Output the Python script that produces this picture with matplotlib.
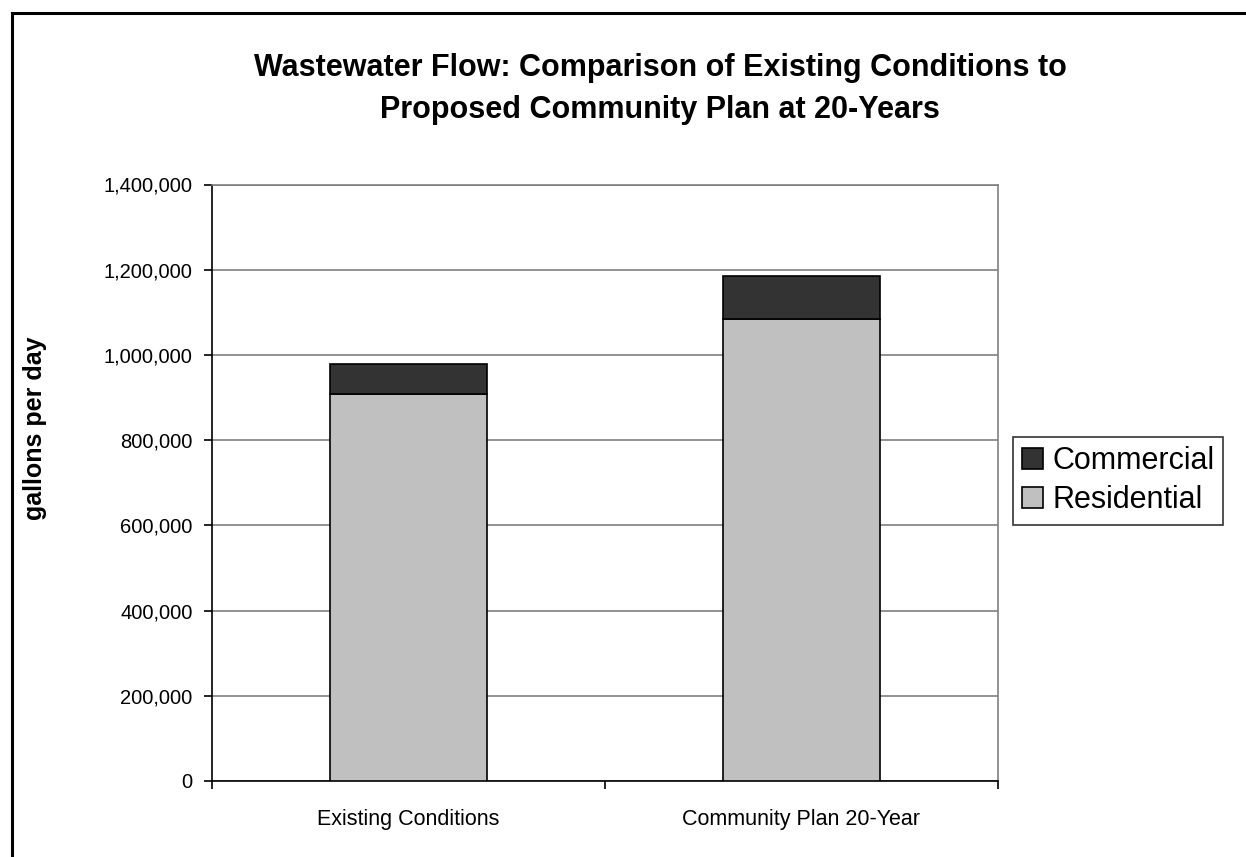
import matplotlib
matplotlib.use("Agg")
import matplotlib.pyplot as plt
from matplotlib.patches import Patch
from matplotlib.lines import Line2D
from matplotlib.ticker import FuncFormatter, FixedLocator

plt.rcParams['font.family'] = ['Liberation Sans', 'DejaVu Sans']

categories = ["Existing Conditions", "Community Plan 20-Year"]
residential = [908000, 1084000]
commercial = [71000, 102000]
series_names = ["Commercial", "Residential"]
yticks = [0, 200000, 400000, 600000, 800000, 1000000, 1200000, 1400000]

W, H = 1246, 857
fig = plt.figure(figsize=(W / 100, H / 100), dpi=100)
ax = fig.add_axes([212 / W, 1 - 781 / H, (998 - 212) / W, (781 - 184.5) / H])

x = list(range(len(categories)))
ax.bar(x, residential, width=0.4, color="#C0C0C0", edgecolor="black", linewidth=1.2, zorder=3)
ax.bar(x, commercial, bottom=residential, width=0.4, color="#333333", edgecolor="black", linewidth=1.2, zorder=3)

ax.set_xlim(-0.5, len(categories) - 0.5)
ax.set_ylim(0, 1400000)
ax.set_yticks(yticks)
ax.yaxis.set_major_formatter(FuncFormatter(lambda v, p: f"{int(v):,}"))
ax.yaxis.grid(True, color="#808080", linewidth=1.2, zorder=0)
ax.tick_params(axis="y", direction="out", length=6, width=1.2, labelsize=14.5, pad=8)

ax.set_xticks(x)
ax.set_xticklabels(categories, fontsize=15.5)
ax.tick_params(axis="x", which="major", length=0, pad=20)
ax.xaxis.set_minor_locator(FixedLocator([-0.5, 0.5, 1.5]))
ax.tick_params(axis="x", which="minor", direction="out", length=5.5, width=1.2)

for s in ["left", "bottom"]:
    ax.spines[s].set_color("black")
    ax.spines[s].set_linewidth(1.2)
for s in ["right", "top"]:
    ax.spines[s].set_color("#808080")
    ax.spines[s].set_linewidth(1.2)

fig.text(35 / W, 1 - 428 / H, "gallons per day", rotation=90, ha="center", va="center",
         fontsize=18, fontweight="bold")

fig.text(0.53, 1 - 89 / H, "Wastewater Flow: Comparison of Existing Conditions to\nProposed Community Plan at 20-Years",
         ha="center", va="center", fontsize=22, fontweight="bold", linespacing=1.5)

handles = [Patch(facecolor="#333333", edgecolor="black", linewidth=1.2),
           Patch(facecolor="#C0C0C0", edgecolor="black", linewidth=1.2)]
leg = fig.legend(handles, series_names, loc="upper left", bbox_to_anchor=(1013 / W, 1 - 437 / H),
                 fontsize=22, frameon=True, fancybox=False, handlelength=0.68, handleheight=0.68,
                 handletextpad=0.3, borderpad=0.3, labelspacing=0.3, borderaxespad=0)
leg.get_frame().set_edgecolor("black")
leg.get_frame().set_linewidth(1.2)

# outer chart border (extends beyond image on right/bottom)
fig.add_artist(Line2D([11.5 / W, 11.5 / W], [1 - 12.5 / H, 0], transform=fig.transFigure, color="black", linewidth=2.2))
fig.add_artist(Line2D([11.5 / W, 1], [1 - 12.5 / H, 1 - 12.5 / H], transform=fig.transFigure, color="black", linewidth=2.2))

fig.savefig("out.png", dpi=100)
